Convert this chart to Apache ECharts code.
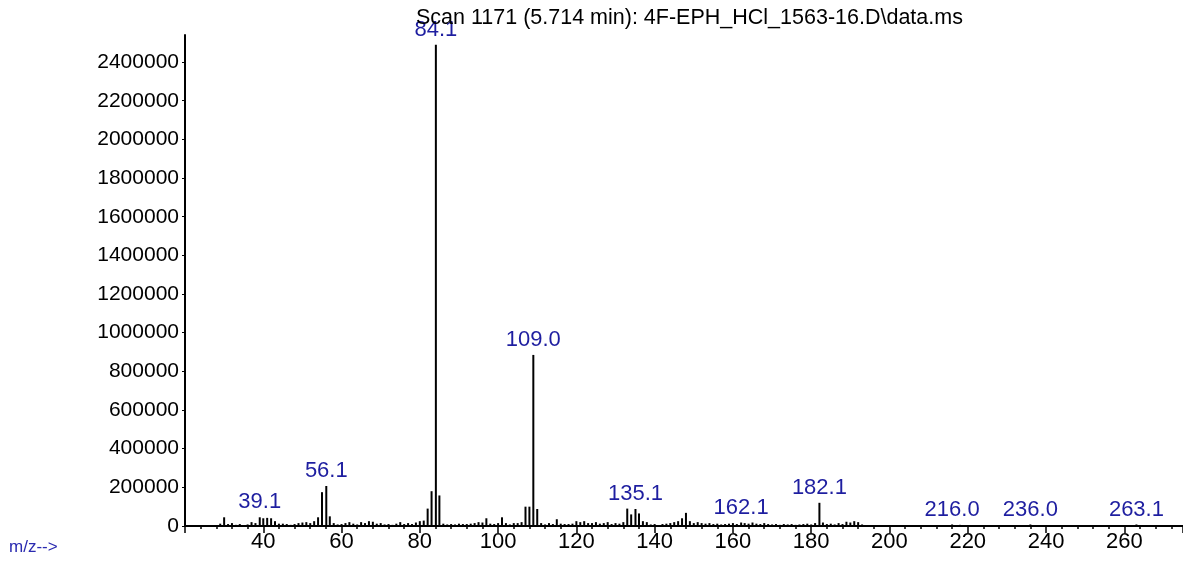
<!DOCTYPE html>
<html>
<head>
<meta charset="utf-8">
<title>Scan 1171</title>
<script src="https://cdn.jsdelivr.net/npm/echarts@6/dist/echarts.min.js"></script>
<style>
    html, body { margin: 0; padding: 0; background: #fff; }
    #chart { width: 1183px; height: 571px; }
</style>
</head>
<body>
<div id="chart"></div>
<script>
// m/z values and abundances
var mz = [29, 30, 31, 32, 33, 34, 35, 36, 37, 38, 39.1, 40, 41, 42, 43, 44, 45, 46, 47, 48, 49,
    50, 51, 52, 53, 54, 55, 56.1, 57, 58, 59, 60, 61, 62, 63, 64, 65, 66, 67, 68, 69,
    70, 71, 72, 73, 74, 75, 76, 77, 78, 79, 80, 81, 82, 83, 84.1, 85, 86, 87, 88, 89,
    90, 91, 92, 93, 94, 95, 96, 97, 98, 99, 100, 101, 102, 103, 104, 105, 106, 107, 108, 109.0,
    110, 111, 112, 113, 114, 115, 116, 117, 118, 119, 120, 121, 122, 123, 124, 125, 126, 127, 128, 129,
    130, 131, 132, 133, 134, 135.1, 136, 137, 138, 139, 140, 141, 142, 143, 144, 145, 146, 147, 148, 149,
    150, 151, 152, 153, 154, 155, 156, 157, 158, 159, 160, 161, 162.1, 163, 164, 165, 166, 167, 168, 169,
    170, 171, 172, 173, 174, 175, 176, 177, 178, 179, 180, 181, 182.1, 183, 184, 185, 186, 187, 188, 189,
    190, 191, 192, 193, 216.0, 218, 236.0, 263.1];
var abundance = [12000, 45000, 10000, 15000, 6000, 10000, 5000, 8000, 20000, 15000, 45000, 40000, 42000, 40000, 25000, 12000, 12000, 10000, 6000, 10000, 15000,
    18000, 20000, 15000, 25000, 45000, 175000, 207000, 50000, 15000, 8000, 10000, 15000, 20000, 12000, 8000, 20000, 15000, 25000, 22000, 12000,
    15000, 8000, 10000, 6000, 12000, 20000, 10000, 15000, 10000, 18000, 25000, 28000, 90000, 180000, 2490000, 158000, 12000, 8000, 10000, 8000,
    12000, 10000, 10000, 12000, 15000, 20000, 18000, 40000, 12000, 10000, 15000, 45000, 15000, 8000, 15000, 15000, 20000, 100000, 100000, 885000,
    88000, 15000, 8000, 15000, 10000, 35000, 12000, 10000, 10000, 12000, 25000, 20000, 25000, 15000, 15000, 20000, 12000, 15000, 20000, 10000,
    15000, 12000, 20000, 90000, 60000, 88000, 65000, 25000, 20000, 8000, 10000, 5000, 10000, 12000, 15000, 20000, 25000, 40000, 68000, 25000,
    15000, 20000, 15000, 12000, 15000, 10000, 12000, 8000, 10000, 12000, 15000, 10000, 18000, 15000, 12000, 18000, 12000, 10000, 15000, 10000,
    8000, 10000, 6000, 10000, 8000, 10000, 6000, 8000, 10000, 12000, 8000, 15000, 120000, 18000, 10000, 12000, 8000, 15000, 10000, 22000,
    18000, 25000, 20000, 8000, 8000, 6000, 8000, 8000];
// peaks that carry an m/z label
var labelledPeaks = [39.1, 56.1, 84.1, 109.0, 135.1, 162.1, 182.1, 216.0, 236.0, 263.1];

var titleText = 'Scan 1171 (5.714 min): 4F-EPH_HCl_1563-16.D\\data.ms';
var fontName = '"Liberation Sans", Arial, sans-serif';

function buildData() {
    var data = [];
    for (var i = 0; i < mz.length; i++) {
        var item = { value: [mz[i], abundance[i]] };
        if (labelledPeaks.indexOf(mz[i]) >= 0) {
            item.label = { show: true };
        }
        data.push(item);
    }
    return data;
}

var myChart = echarts.init(document.getElementById('chart'));
var option = {
    animation: false,
    backgroundColor: '#ffffff',
    title: {
        text: titleText,
        left: 411,
        top: 2,
        textStyle: { fontFamily: fontName, fontSize: 21.5, fontWeight: 'normal', color: '#000' }
    },
    graphic: [{
        type: 'text',
        left: 9,
        top: 539,
        style: { text: 'm/z-->', fontFamily: fontName, fontSize: 17, fill: '#2a2ab0' }
    }],
    grid: { left: 185, right: 0, top: 35, bottom: 45 },
    xAxis: {
        type: 'value',
        min: 20,
        max: 275,
        interval: 20,
        splitLine: { show: false },
        axisLine: { onZero: false, lineStyle: { color: '#000', width: 2 } },
        axisTick: { length: 7, lineStyle: { color: '#000', width: 1.5 } },
        minorTick: { show: true, splitNumber: 5, length: 3, lineStyle: { color: '#000', width: 1.5 } },
        axisLabel: {
            showMinLabel: false,
            showMaxLabel: false,
            margin: 5,
            color: '#000',
            fontFamily: fontName,
            fontSize: 22
        }
    },
    yAxis: {
        type: 'value',
        min: 0,
        max: 2540000,
        interval: 200000,
        splitLine: { show: false },
        axisLine: { show: true, lineStyle: { color: '#000', width: 2 } },
        axisTick: { show: true, length: 3, lineStyle: { color: '#000' } },
        axisLabel: {
            showMaxLabel: false,
            margin: 6,
            color: '#000',
            fontFamily: fontName,
            fontSize: 21,
            formatter: function (v) { return String(v); }
        }
    },
    series: [{
        type: 'bar',
        barWidth: 2,
        itemStyle: { color: '#000' },
        emphasis: { disabled: true },
        label: {
            show: false,
            position: 'top',
            distance: 4,
            color: '#1e1ea0',
            fontFamily: fontName,
            fontSize: 22,
            formatter: function (p) { return p.value[0].toFixed(1); }
        },
        data: buildData()
    }]
};
myChart.setOption(option);
</script>
</body>
</html>
